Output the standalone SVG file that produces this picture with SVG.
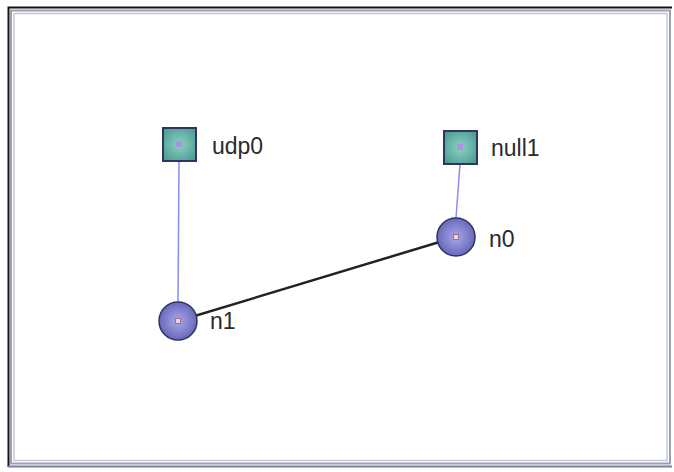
<svg xmlns="http://www.w3.org/2000/svg" width="674" height="472" viewBox="0 0 674 472">
<style>
.lbl{font-family:"Liberation Sans",Arial,sans-serif;font-size:23px;fill:#2a2a2a}
.sq{fill:url(#gsq);stroke:#2e3560;stroke-width:2}
.nd{fill:url(#gnd);stroke:#2e3560;stroke-width:1.5}
.dot{fill:#b090e0}
.ndot{fill:#f0d0e0;stroke:#a07090;stroke-width:1}
</style>
<defs>
<radialGradient id="gnd" cx="0.5" cy="0.5" r="0.55">
<stop offset="0" stop-color="#a8a8e8"/>
<stop offset="1" stop-color="#6262b8"/>
</radialGradient>
<radialGradient id="gsq" cx="0.5" cy="0.5" r="0.6">
<stop offset="0" stop-color="#8ed0c4"/>
<stop offset="1" stop-color="#4e9e96"/>
</radialGradient>
</defs>
<rect x="0" y="0" width="674" height="472" fill="#ffffff"/>
<g id="border" fill="none">
<path d="M8.5 467 V7.5 H672" stroke="#111" stroke-width="2"/>
<rect x="11" y="10.5" width="659" height="453" stroke="#9aa0b4" stroke-width="2"/>
<rect x="14" y="13.5" width="653" height="447" stroke="#c4c8d6" stroke-width="1.5"/>
<path d="M8 466.5 H672" stroke="#7a7f99" stroke-width="2"/>
</g>
<g id="connectors">
<line x1="179" y1="162" x2="178" y2="302" stroke="#8c8cf4" stroke-width="1.5"/>
<line x1="460" y1="164" x2="456" y2="218" stroke="#8c8cf4" stroke-width="1.5"/>
<line x1="178" y1="321" x2="456" y2="237" stroke="#222" stroke-width="2.5"/>
</g>
<g id="udp0">
<rect class="sq" x="163" y="128" width="33" height="33"/>
<rect class="dot" x="176" y="141" width="6" height="6"/>
<text class="lbl" x="212" y="154">udp0</text>
</g>
<g id="null1">
<rect class="sq" x="444" y="131" width="33" height="33"/>
<rect class="dot" x="457" y="144" width="6" height="6"/>
<text class="lbl" x="491" y="156">null1</text>
</g>
<g id="n1">
<circle class="nd" cx="178" cy="321" r="19"/>
<rect class="ndot" x="175.5" y="318.5" width="5" height="5"/>
<text class="lbl" x="210" y="329">n1</text>
</g>
<g id="n0">
<circle class="nd" cx="456" cy="237" r="19"/>
<rect class="ndot" x="453.5" y="234.5" width="5" height="5"/>
<text class="lbl" x="489" y="247">n0</text>
</g>
</svg>
